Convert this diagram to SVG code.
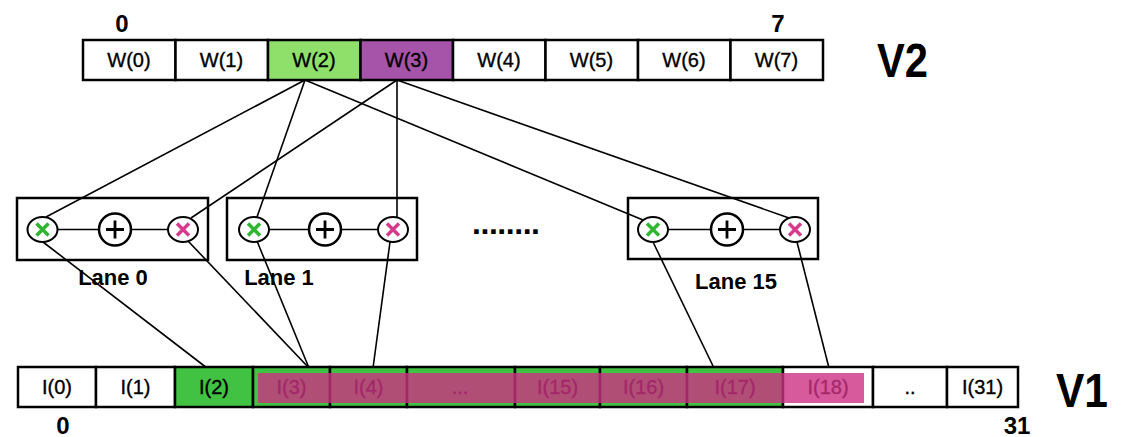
<svg xmlns="http://www.w3.org/2000/svg" width="1122" height="437" viewBox="0 0 1122 437">
<style>
  .cell{stroke:#000;stroke-width:2.5}
  .lbl{font-family:"Liberation Sans",Arial,sans-serif;font-size:20px;text-anchor:middle;fill:#000;stroke:#000;stroke-width:0.35}
  .idx{font-family:"Liberation Sans",Arial,sans-serif;font-size:24px;font-weight:bold;text-anchor:middle;fill:#000}
  .big{font-family:"Liberation Sans",Arial,sans-serif;font-size:48px;font-weight:bold;fill:#000}
  .lane{font-family:"Liberation Sans",Arial,sans-serif;font-size:22px;font-weight:bold;text-anchor:middle;fill:#000}
  .box{fill:none;stroke:#000;stroke-width:2.5}
  .conn{stroke:#000;stroke-width:1.6;fill:none}
  .op{fill:#fff;stroke:#000;stroke-width:2}
  .plus{fill:#fff;stroke:#000;stroke-width:2.5}
  .pl{stroke:#000;stroke-width:2.8}
  .gx{stroke:#2fb52f;stroke-width:3.5}
  .px{stroke:#d63a8c;stroke-width:3.5}
  .wire{stroke:#000;stroke-width:1.6}
</style>
<defs>
  <g id="mulG"><ellipse class="op" cx="0" cy="0" rx="15" ry="12.5"/><path class="gx" d="M-6,-6L6,6M6,-6L-6,6"/></g>
  <g id="mulP"><ellipse class="op" cx="0" cy="0" rx="15" ry="12.5"/><path class="px" d="M-6,-6L6,6M6,-6L-6,6"/></g>
  <g id="add"><circle class="plus" cx="0" cy="0" r="16"/><path class="pl" d="M-9,0H9M0,-9V9"/></g>
</defs>

<g id="connectors">
  <line class="conn" x1="305" y1="80" x2="46" y2="217"/>
  <line class="conn" x1="305" y1="80" x2="257" y2="217"/>
  <line class="conn" x1="305" y1="80" x2="643" y2="220"/>
  <line class="conn" x1="397" y1="80" x2="191" y2="218"/>
  <line class="conn" x1="397" y1="80" x2="397" y2="218"/>
  <line class="conn" x1="397" y1="80" x2="789" y2="218"/>
  <line class="conn" x1="43" y1="242" x2="207" y2="368"/>
  <line class="conn" x1="188" y1="241" x2="309" y2="368"/>
  <line class="conn" x1="257" y1="241" x2="309" y2="368"/>
  <line class="conn" x1="390" y1="242" x2="373" y2="368"/>
  <line class="conn" x1="653" y1="242" x2="714" y2="368"/>
  <line class="conn" x1="797" y1="242" x2="829" y2="368"/>
</g>

<g id="v2">
  <rect class="cell" x="83" y="40" width="92.5" height="40" fill="#fff"/>
  <rect class="cell" x="175.5" y="40" width="92.5" height="40" fill="#fff"/>
  <rect class="cell" x="268" y="40" width="92.5" height="40" fill="#8ee06a"/>
  <rect class="cell" x="360.5" y="40" width="92.5" height="40" fill="#a653aa"/>
  <rect class="cell" x="453" y="40" width="92.5" height="40" fill="#fff"/>
  <rect class="cell" x="545.5" y="40" width="92.5" height="40" fill="#fff"/>
  <rect class="cell" x="638" y="40" width="92.5" height="40" fill="#fff"/>
  <rect class="cell" x="730.5" y="40" width="92.5" height="40" fill="#fff"/>
  <text class="lbl" x="129" y="67">W(0)</text>
  <text class="lbl" x="221.5" y="67">W(1)</text>
  <text class="lbl" x="314" y="67">W(2)</text>
  <text class="lbl" x="406.5" y="67">W(3)</text>
  <text class="lbl" x="499" y="67">W(4)</text>
  <text class="lbl" x="591.5" y="67">W(5)</text>
  <text class="lbl" x="684" y="67">W(6)</text>
  <text class="lbl" x="776.5" y="67">W(7)</text>
  <text class="idx" x="122" y="32">0</text>
  <text class="idx" x="778" y="32">7</text>
  <text class="big" x="877" y="77" textLength="51" lengthAdjust="spacingAndGlyphs">V2</text>
</g>

<g id="lane0">
  <rect class="box" x="17" y="198" width="191" height="62"/>
  <line class="wire" x1="42" y1="229.5" x2="183" y2="229.5"/>
  <use href="#mulG" x="42.5" y="229.5"/>
  <use href="#add" x="115" y="229.5"/>
  <use href="#mulP" x="183" y="229.5"/>
  <text class="lane" x="113" y="285">Lane 0</text>
</g>

<g id="lane1">
  <rect class="box" x="227" y="198" width="190" height="62"/>
  <line class="wire" x1="254" y1="229.5" x2="393" y2="229.5"/>
  <use href="#mulG" x="254" y="229.5"/>
  <use href="#add" x="325" y="229.5"/>
  <use href="#mulP" x="393" y="229.5"/>
  <text class="lane" x="279" y="285">Lane 1</text>
</g>

<g id="dots">
  <text x="506" y="234" font-family="Liberation Sans, Arial, sans-serif" font-size="32" font-weight="bold" text-anchor="middle" textLength="68" lengthAdjust="spacing">........</text>
</g>

<g id="lane15">
  <rect class="box" x="628" y="198" width="190" height="61"/>
  <line class="wire" x1="653" y1="229.5" x2="795" y2="229.5"/>
  <use href="#mulG" x="653" y="229.5"/>
  <use href="#add" x="727" y="229.5"/>
  <use href="#mulP" x="795" y="229.5"/>
  <text class="lane" x="736" y="289">Lane 15</text>
</g>

<g id="v1">
  <rect class="cell" x="18" y="367" width="78" height="40" fill="#fff"/>
  <rect class="cell" x="96" y="367" width="79" height="40" fill="#fff"/>
  <rect class="cell" x="175" y="367" width="78" height="40" fill="#42c242"/>
  <rect class="cell" x="253" y="367" width="77" height="40" fill="#42c242"/>
  <rect class="cell" x="330" y="367" width="77" height="40" fill="#42c242"/>
  <rect class="cell" x="407" y="367" width="108" height="40" fill="#42c242"/>
  <rect class="cell" x="515" y="367" width="85" height="40" fill="#42c242"/>
  <rect class="cell" x="600" y="367" width="87" height="40" fill="#42c242"/>
  <rect class="cell" x="687" y="367" width="96" height="40" fill="#42c242"/>
  <rect class="cell" x="783" y="367" width="90" height="40" fill="#fff"/>
  <rect class="cell" x="873" y="367" width="74" height="40" fill="#fff"/>
  <rect class="cell" x="947" y="367" width="71" height="40" fill="#fff"/>
  <text class="lbl" x="57" y="394">I(0)</text>
  <text class="lbl" x="135.5" y="394">I(1)</text>
  <text class="lbl" x="214" y="394">I(2)</text>
  <text class="lbl" x="291.5" y="394">I(3)</text>
  <text class="lbl" x="368.5" y="394">I(4)</text>
  <text class="lbl" x="460" y="394">...</text>
  <text class="lbl" x="557.5" y="394">I(15)</text>
  <text class="lbl" x="643.5" y="394">I(16)</text>
  <text class="lbl" x="735" y="394">I(17)</text>
  <text class="lbl" x="828" y="394">I(18)</text>
  <text class="lbl" x="910" y="394">..</text>
  <text class="lbl" x="982.5" y="394">I(31)</text>
  <rect x="258" y="373" width="606" height="30" fill="#cc3183" fill-opacity="0.8"/>
  <text class="idx" x="63" y="434">0</text>
  <text class="idx" x="1017" y="434">31</text>
  <text class="big" x="1056" y="407" textLength="52" lengthAdjust="spacingAndGlyphs">V1</text>
</g>
</svg>
